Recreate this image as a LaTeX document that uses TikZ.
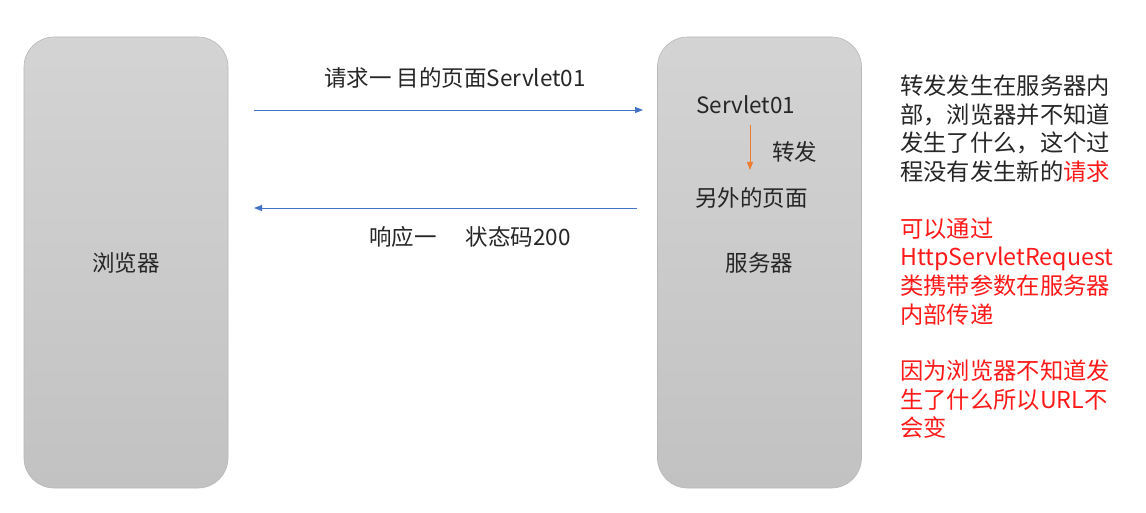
\documentclass[tikz,border=0pt]{standalone}
\usepackage{fontspec}
\setmainfont{Noto Sans CJK SC}
\usetikzlibrary{arrows.meta}
\definecolor{txt}{HTML}{262626}
\definecolor{arrblue}{HTML}{4472C4}
\definecolor{arrorange}{HTML}{ED7D31}
\definecolor{note}{HTML}{FF1A1A}
\begin{document}
\begin{tikzpicture}[x=1pt,y=-1pt,
  panel/.style={draw=black!28, line width=0.6pt, rounded corners=30pt,
    top color=black!17, bottom color=black!24, minimum width=204pt,
    minimum height=451pt, inner sep=0pt, text=txt,
    font=\fontsize{22.5}{26}\selectfont},
  lbl/.style={inner sep=0pt, text=txt, font=\fontsize{22.5}{26}\selectfont},
  notes/.style={anchor=north west, inner sep=0pt, align=left,
    font=\fontsize{23.3}{28.7}\selectfont},
  flow/.style={draw=arrblue, line width=0.9pt, -{Triangle[length=8pt,width=6pt]}},
  fwd/.style={draw=arrorange, line width=0.9pt, -{Triangle[length=8pt,width=6pt]}}]
\useasboundingbox (0,0) rectangle (1146,513);
\fill[white] (0,0) rectangle (1146,513);
\node[panel] (browser) at (126,262.5) {浏览器};
\node[panel] (server) at (759.5,262.5) {服务器};
% top request
\coordinate (reqS) at (254,110);
\coordinate (reqE) at (643,110);
\draw[flow] (reqS) -- (reqE);
\node[lbl] (reqlbl) at (455,78) {请求一 目的页面Servlet01};
% response
\coordinate (resS) at (637,208);
\coordinate (resE) at (254,208);
\draw[flow] (resS) -- (resE);
\node[lbl] (reslbl) at (470,237) {响应一\hspace{1.3em}状态码200};
% inside server
\node[lbl, anchor=west] (s01) at (696,105) {Servlet01};
\node[lbl, anchor=west] (other) at (695,198) {另外的页面};
\coordinate (fS) at (750,125);
\coordinate (fE) at (750,170);
\draw[fwd] (fS) -- (fE);
\node[lbl, anchor=west] (fwdlbl) at (772,152) {转发};
% notes
\node[notes, text=txt] (note1) at (900,74.5)
  {转发发生在服务器内\\部，浏览器并不知道\\发生了什么，这个过\\程没有发生新的\textcolor{note}{请求}};
\node[notes, text=note] (note2) at (900,217.5)
  {可以通过\\HttpServletRequest\\类携带参数在服务器\\内部传递};
\node[notes, text=note] (note3) at (900,359.5)
  {因为浏览器不知道发\\生了什么所以URL不\\会变};
\end{tikzpicture}
\end{document}
